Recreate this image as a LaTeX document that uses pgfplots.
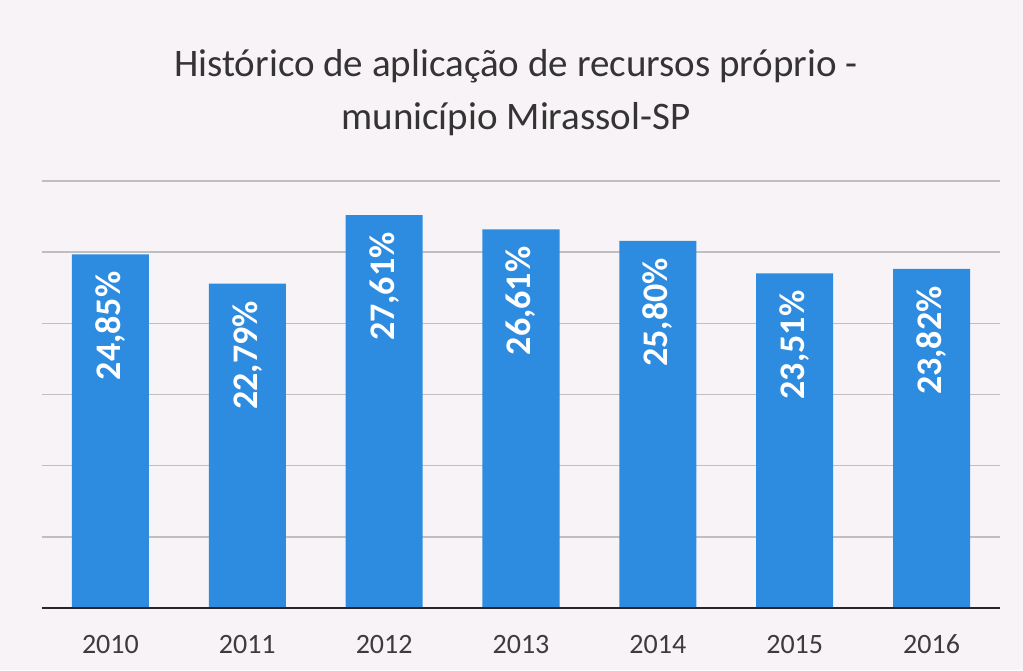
\documentclass[border=0pt]{standalone}
\usepackage{pgfplots}
\pgfplotsset{compat=1.18}
\usepackage{fontspec}
\setmainfont{Carlito}
\definecolor{barblue}{RGB}{46,140,224}
\definecolor{bg}{RGB}{248,243,246}
\definecolor{txt}{RGB}{60,60,60}
\definecolor{ttl}{RGB}{52,52,52}
\begin{document}
\begin{tikzpicture}
\fill[bg] (0,0) rectangle (511.5pt,335pt);
\begin{axis}[
  at={(21pt,31pt)}, anchor=south west,
  scale only axis, width=479pt, height=213.5pt,
  xmin=-0.5, xmax=6.5, ymin=0, ymax=30,
  ybar, bar width=38.5pt,
  xtick={0,...,6}, xticklabels={2010,2011,2012,2013,2014,2015,2016},
  ytick={0,5,...,30}, yticklabels={},
  ymajorgrids, major grid style={gray!50, line width=0.8pt},
  major tick length=0pt, tick style={draw=none},
  axis line style={draw=none},
  xticklabel style={anchor=base, yshift=-22.5pt, font=\fontsize{14}{14}\selectfont, text=txt},
  /pgf/number format/assume math mode=true,
  nodes near coords={\pgfmathprintnumber[fixed,fixed zerofill,precision=2,use comma]{\pgfplotspointmeta}\%},
  nodes near coords style={rotate=90, anchor=east, inner xsep=8.5pt, font=\bfseries\fontsize{18}{18}\selectfont, text=white},
]
\addplot[fill=barblue, draw=none] coordinates {(0,24.85) (1,22.79) (2,27.61) (3,26.61) (4,25.80) (5,23.51) (6,23.82)};
\draw[black!85, line width=1.5pt] (axis cs:-0.5,0) -- (axis cs:6.5,0);
\end{axis}
\node[anchor=base, text=ttl, font=\fontsize{19.5}{19.5}\selectfont] at (258pt,296.5pt) {Histórico de aplicação de recursos próprio -};
\node[anchor=base, text=ttl, font=\fontsize{19.5}{19.5}\selectfont] at (258pt,270pt) {município Mirassol-SP};
\end{tikzpicture}
\end{document}
